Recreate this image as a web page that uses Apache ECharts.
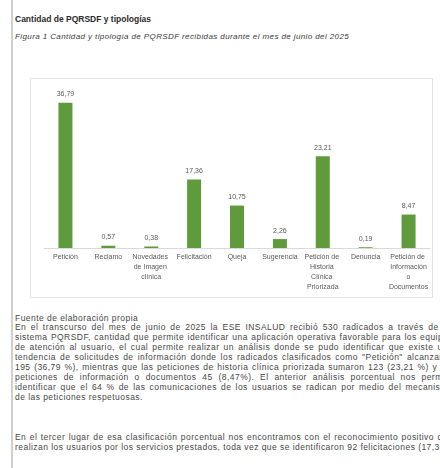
<!DOCTYPE html>
<html lang="es">
<head>
<meta charset="utf-8">
<title>Cantidad de PQRSDF y tipologías</title>
<script src="https://cdn.jsdelivr.net/npm/echarts@6/dist/echarts.min.js"></script>
<style>
  html, body { margin: 0; padding: 0; background: #fff; overflow: hidden; }
  body { width: 440px; height: 468px; position: relative; font-family: "Liberation Sans", Arial, sans-serif; color: #333; }
  .rule { position: absolute; left: 11px; top: 0; width: 2px; height: 468px; background: #cfcfcf; }
  .h { position: absolute; left: 15px; top: 14px; font-size: 8.5px; font-weight: bold; color: #2b2b2b; white-space: nowrap; }
  .cap { position: absolute; left: 15px; top: 32px; font-size: 8px; letter-spacing: 0.4px; font-style: italic; color: #3a3a3a; white-space: nowrap; }
  #box { position: absolute; left: 30px; top: 78px; width: 403px; height: 220px; border: 1px solid #e3e3e3; box-sizing: border-box; }
  #chart { position: absolute; left: 0; top: 0; width: 401px; height: 218px; }
  .txt { position: absolute; left: 15px; font-size: 8.5px; letter-spacing: 0.45px; line-height: 10px; color: #474747; }
  .txt div { width: 438px; white-space: nowrap; text-align: justify; text-align-last: justify; }
  .txt div.end { text-align-last: left; }
  .src { top: 313px; }
  .p1 { top: 322px; }
  .p2 { top: 432px; }
</style>
</head>
<body>
<div class="rule"></div>
<div class="h">Cantidad de PQRSDF y tipologías</div>
<div class="cap">Figura 1 Cantidad y tipología de PQRSDF recibidas durante el mes de junio del 2025</div>
<div id="box"><div id="chart"></div></div>
<div class="txt src"><div class="end">Fuente de elaboración propia</div></div>
<div class="txt p1">
  <div>En el transcurso del mes de junio de 2025 la ESE INSALUD recibió 530 radicados a través de su</div>
  <div>sistema PQRSDF, cantidad que permite identificar una aplicación operativa favorable para los equipos</div>
  <div>de atención al usuario, el cual permite realizar un análisis donde se pudo identificar que existe una</div>
  <div>tendencia de solicitudes de información donde los radicados clasificados como "Petición" alcanzaron</div>
  <div>195 (36,79 %), mientras que las peticiones de historia clínica priorizada sumaron 123 (23,21 %) y las</div>
  <div>peticiones de información o documentos 45 (8,47%). El anterior análisis porcentual nos permite</div>
  <div>identificar que el 64 % de las comunicaciones de los usuarios se radican por medio del mecanismo</div>
  <div class="end">de las peticiones respetuosas.</div>
</div>
<div class="txt p2">
  <div>En el tercer lugar de esa clasificación porcentual nos encontramos con el reconocimiento positivo que</div>
  <div>realizan los usuarios por los servicios prestados, toda vez que se identificaron 92 felicitaciones (17,36 %)</div>
</div>
<script>
// Tipologías de PQRSDF y su porcentaje en junio de 2025
const categories = [
  'Petición',
  'Reclamo',
  'Novedades de Imagen clínica',
  'Felicitación',
  'Queja',
  'Sugerencia',
  'Petición de Historia Clínica Priorizada',
  'Denuncia',
  'Petición de Información o Documentos'
];
const percentages = [36.79, 0.57, 0.38, 17.36, 10.75, 2.26, 23.21, 0.19, 8.47];

const chart = echarts.init(document.getElementById('chart'), null, { renderer: 'canvas' });
chart.setOption({
  animation: false,
  grid: { left: 13, right: 2, top: 11, bottom: 49 },
  xAxis: {
    type: 'category',
    data: categories,
    axisLine: { show: true, lineStyle: { color: '#d9d9d9', width: 1 } },
    axisTick: { show: false },
    axisLabel: {
      interval: 0,
      fontSize: 7,
      lineHeight: 10,
      color: '#595959',
      margin: 4,
      width: 40,
      overflow: 'break',
      fontFamily: 'Liberation Sans'
    }
  },
  yAxis: {
    type: 'value',
    min: 0,
    max: 40,
    show: false,
    splitLine: { show: false }
  },
  series: [{
    type: 'bar',
    data: percentages,
    barWidth: 14,
    itemStyle: { color: '#5f9b3d' },
    label: {
      show: true,
      position: 'top',
      distance: 5,
      fontSize: 7,
      color: '#595959',
      fontFamily: 'Liberation Sans',
      formatter: p => p.value.toFixed(2).replace('.', ',')
    }
  }]
});
</script>
</body>
</html>
